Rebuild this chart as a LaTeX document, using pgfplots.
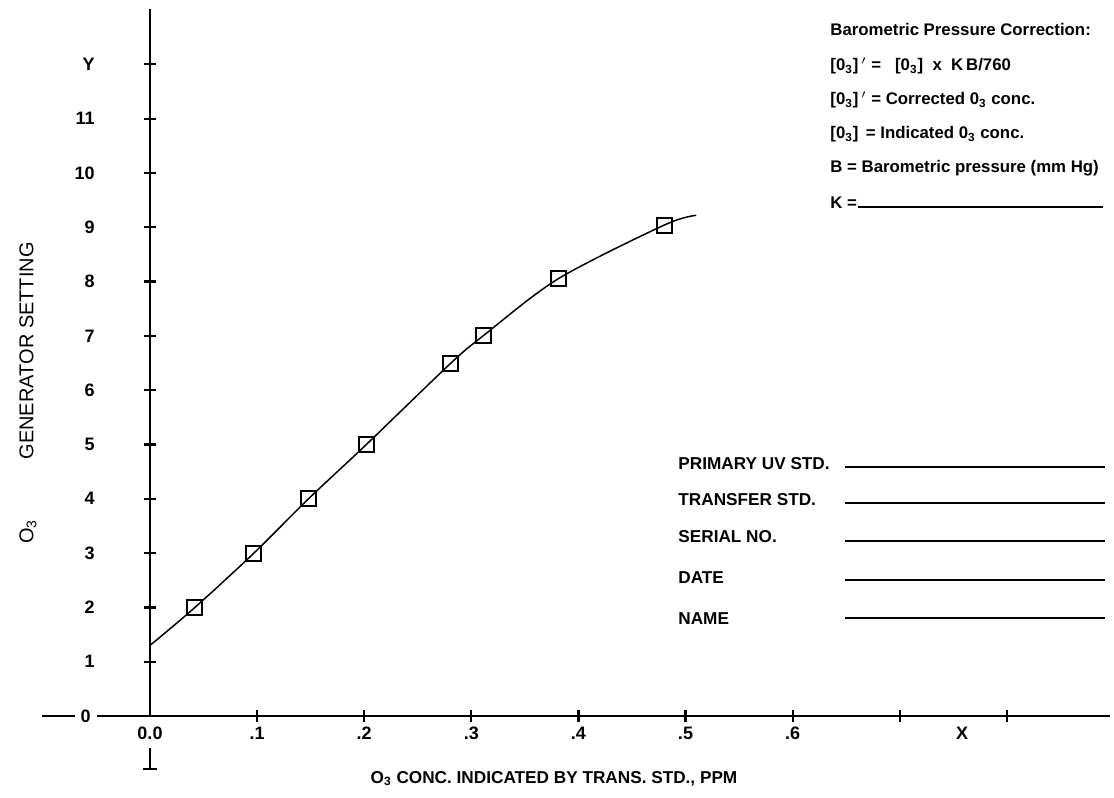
\documentclass[border=0pt]{standalone}
\usepackage{pgfplots}
\pgfplotsset{compat=1.18}
\usepackage{fontspec}
\setmainfont{Liberation Sans}
\newcommand\tl{\fontsize{9}{10}\selectfont\bfseries}
\newcommand\rt{\fontsize{8.4}{9}\selectfont\bfseries}
\newcommand\ft{\fontsize{8.6}{10}\selectfont\bfseries}
\begin{document}
\begin{tikzpicture}
\useasboundingbox (-75pt,-41pt) rectangle (482pt,358pt);
\begin{axis}[
  anchor=origin, at={(0pt,0pt)},
  x=535.5pt, y=27.15pt,
  xmin=-0.101, xmax=0.896, ymin=0, ymax=13.02,
  axis lines=middle,
  x axis line style={-, line width=1.1pt},
  y axis line style={-, line width=1.4pt},
  xtick={0.1,0.2,0.3,0.4,0.5,0.6,0.7,0.8},
  ytick={1,2,3,4,5,6,7,8,9,10,11,12},
  xticklabels={}, yticklabels={},
  tick align=center, major tick length=6pt,
  tick style={black, line width=1.1pt},
  clip=false,
]
\addplot[black, line width=0.75pt, smooth] coordinates {
(0,1.3) (0.042,2.0) (0.097,3.0) (0.148,4.0) (0.202,5.0) (0.281,6.5) (0.311,7.0) (0.381,8.05) (0.48,9.04) (0.51,9.22)};
\addplot[only marks, mark=square, mark size=3.75pt, mark options={line width=1pt, black}] coordinates {
(0.042,2.0) (0.097,3.0) (0.148,4.0) (0.202,5.0) (0.281,6.5) (0.311,7.0) (0.381,8.05) (0.48,9.04)};
\end{axis}
\begin{scope}[x=0.5pt, y=-0.5pt, shift={(-150,-716)}]
% y tick labels
\foreach \v/\py in {1/661.7,2/607.4,3/553.1,4/498.8,5/444.5,6/390.2,7/335.9,8/281.6,9/227.3,10/173,11/118.7,Y/64.4}
  \node[anchor=east, inner sep=0pt, font=\tl] at (95,\py) {\v};
\node[anchor=east, fill=white, inner xsep=3pt, inner ysep=1pt, font=\tl] at (97,716) {0};
% x tick labels
\foreach \v/\px in {0.0/150,.1/257.1,.2/364.2,.3/471.3,.4/578.4,.5/685.5,.6/792.6,X/962}
  \node[inner sep=0pt, font=\tl] at (\px,733) {\v};
% bottom mark
\draw[line width=1.2pt] (150,748) -- (150,769) (143,769) -- (157,769);
% axis labels
\node[rotate=90, font=\fontsize{10}{11}\selectfont] at (28,393) {O\textsubscript{3}\hspace{3em}GENERATOR SETTING};
\node[font=\ft] at (554,779) {O\textsubscript{3} CONC. INDICATED BY TRANS. STD., PPM};
% upper right notes
\node[anchor=west, inner sep=0pt, font=\rt] at (830,30) {Barometric Pressure Correction:};
\node[anchor=west, inner sep=0pt, font=\rt] at (830,66) {[0\textsubscript{3}]\,$'$ = \ \ [0\textsubscript{3}] \ x \ K\,B/760};
\node[anchor=west, inner sep=0pt, font=\rt] at (830,100) {[0\textsubscript{3}]\,$'$ = Corrected 0\textsubscript{3} conc.};
\node[anchor=west, inner sep=0pt, font=\rt] at (830,134) {[0\textsubscript{3}] \,= Indicated 0\textsubscript{3} conc.};
\node[anchor=west, inner sep=0pt, font=\rt] at (830,168) {B = Barometric pressure (mm Hg)};
\node[anchor=west, inner sep=0pt, font=\rt] at (830,203) {K =};
\draw[line width=1.1pt] (858,207) -- (1103,207);
% form
\foreach \t/\ty/\ly in {PRIMARY UV STD./464/467, TRANSFER STD./500/503, SERIAL NO./537/541, DATE/578/580, NAME/619/618}{
  \node[anchor=west, inner sep=0pt, font=\ft] at (678,\ty) {\t};
  \draw[line width=1pt] (845,\ly) -- (1105,\ly);
}
\end{scope}
\end{tikzpicture}
\end{document}
